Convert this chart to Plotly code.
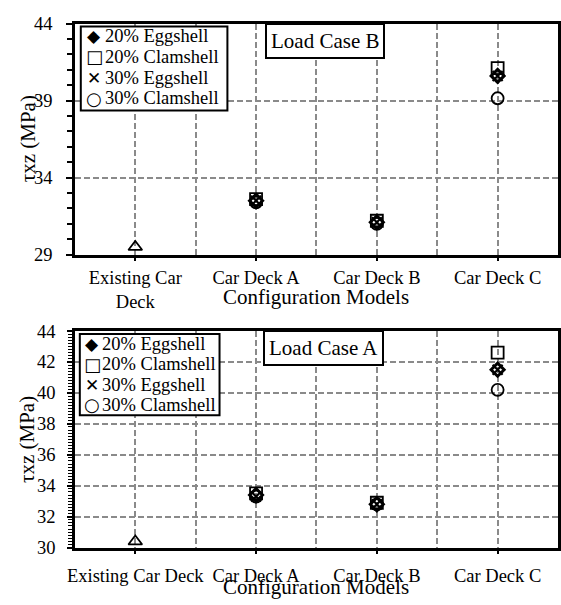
import plotly.graph_objects as go

W, H = 561, 605

# Configuration models on the x axis
categories = ["Existing Car Deck", "Car Deck A", "Car Deck B", "Car Deck C"]
tick_text_b = ["Existing Car<br>Deck", "Car Deck A", "Car Deck B", "Car Deck C"]
tick_text_a = ["Existing Car Deck", "Car Deck A", "Car Deck B", "Car Deck C"]
models = ["Car Deck A", "Car Deck B", "Car Deck C"]

series_names = ["20% Eggshell", "20% Clamshell", "30% Eggshell", "30% Clamshell"]

# Load Case B shear stress (MPa)
existing_b = 29.5
case_b = {
    "20% Eggshell": [32.5, 31.1, 40.6],
    "20% Clamshell": [32.6, 31.2, 41.1],
    "30% Eggshell": [32.5, 31.1, 40.6],
    "30% Clamshell": [32.4, 31.0, 39.15],
}

# Load Case A shear stress (MPa)
existing_a = 30.4
case_a = {
    "20% Eggshell": [33.4, 32.8, 41.5],
    "20% Clamshell": [33.5, 32.9, 42.6],
    "30% Eggshell": [33.3, 32.8, 41.5],
    "30% Clamshell": [33.3, 32.8, 40.2],
}

styles = {
    "20% Eggshell": dict(symbol="diamond-open", size=10, line=dict(width=3, color="black")),
    "20% Clamshell": dict(symbol="square-open", size=12, line=dict(width=1.8, color="black")),
    "30% Eggshell": dict(symbol="x-thin", size=10, line=dict(width=2.2, color="black")),
    "30% Clamshell": dict(symbol="circle-open", size=12, line=dict(width=1.8, color="black")),
}

# glyphs used in the boxed keys
key_glyphs = {
    "20% Eggshell": ("◆", 17),
    "20% Clamshell": ("□", 18),
    "30% Eggshell": ("✕", 17),
    "30% Clamshell": ("○", 18),
}

FONT = "Liberation Serif, Times New Roman, serif"
SYMFONT = "DejaVu Sans"
pos = {c: i + 0.5 for i, c in enumerate(categories)}


def px_x(v):
    return v / W


def px_y(v):
    return 1 - v / H


fig = go.Figure()

panels = [
    ("x", "y", existing_b, case_b),
    ("x2", "y2", existing_a, case_a),
]
for xa, ya, existing, data in panels:
    fig.add_trace(go.Scatter(
        x=[pos["Existing Car Deck"]], y=[existing], mode="markers",
        marker=dict(symbol="triangle-up-open", size=12, color="black",
                    line=dict(width=1.8, color="black")),
        xaxis=xa, yaxis=ya, showlegend=False, name="Existing",
    ))
    for name in series_names:
        st = styles[name]
        fig.add_trace(go.Scatter(
            x=[pos[m] for m in models], y=data[name], mode="markers",
            name=name, xaxis=xa, yaxis=ya, showlegend=False,
            marker=dict(symbol=st["symbol"], size=st["size"], color="black",
                        line=st["line"]),
        ))

grid = dict(gridcolor="#8a8a8a", gridwidth=1.5, griddash="6px,3px")
xdom = [69 / W, 560 / W]

xcommon = dict(
    domain=xdom, range=[0, 4], tickmode="array",
    tickvals=[pos[c] for c in categories],
    showline=True, linecolor="black", linewidth=2.5, mirror=True,
    ticks="outside", ticklen=4, tickwidth=2, tickcolor="black",
    showgrid=True, **grid,
    minor=dict(tick0=0, dtick=0.5, showgrid=True, ticks="",
               gridcolor="#8a8a8a", gridwidth=1.5, griddash="6px,3px"),
    tickfont=dict(family=FONT, size=18.5, color="black"),
    zeroline=False,
)

fig.update_layout(
    xaxis=dict(**xcommon, ticktext=tick_text_b, anchor="y", ticklabelstandoff=0),
    yaxis=dict(
        domain=[px_y(253), px_y(14)], range=[29, 44], tick0=29, dtick=5,
        showline=True, linecolor="black", linewidth=2.5, mirror=True,
        ticks="outside", ticklen=6, tickwidth=2, tickcolor="black",
        minor=dict(dtick=1, tick0=29, ticks="outside", ticklen=5, tickwidth=1.5,
                   tickcolor="black", showgrid=False),
        showgrid=True, **grid, zeroline=False, anchor="x",
        tickfont=dict(family=FONT, size=18.5, color="black"),
        ticklabelstandoff=10,
    ),
    xaxis2=dict(**xcommon, ticktext=tick_text_a, anchor="y2", ticklabelstandoff=5),
    yaxis2=dict(
        domain=[px_y(556), px_y(332)], range=[30, 44], tick0=30, dtick=2,
        showline=True, linecolor="black", linewidth=2.5, mirror=True,
        ticks="outside", ticklen=5, tickwidth=2, tickcolor="black",
        minor=dict(dtick=0.2, tick0=30, ticks="outside", ticklen=4, tickwidth=1.2,
                   tickcolor="black", showgrid=False),
        showgrid=True, **grid, zeroline=False, anchor="x2",
        tickfont=dict(family=FONT, size=18.5, color="black"),
        ticklabelstandoff=8,
    ),
    showlegend=False,
    width=W, height=H,
    margin=dict(l=0, r=0, t=0, b=0),
    paper_bgcolor="white", plot_bgcolor="white",
    font=dict(family=FONT, color="black"),
)

# boxed keys: (box left, top, right, bottom, symbol centre x, text left x, row centres)
keys = [
    (75, 17, 224, 104, 88.5, 98, [27, 48.5, 70, 91.5]),
    (74, 335, 216, 419, 86.5, 95, [345.5, 366.5, 387.5, 408.5]),
]
for x0, y0, x1, y1, sx, tx, rows in keys:
    fig.add_shape(type="rect", xref="paper", yref="paper",
                  x0=px_x(x0), x1=px_x(x1), y0=px_y(y0), y1=px_y(y1),
                  line=dict(color="black", width=2), fillcolor="white", layer="above")
    for name, yc in zip(series_names, rows):
        glyph, gsize = key_glyphs[name]
        fig.add_annotation(
            text=glyph, xref="paper", yref="paper", x=px_x(sx), y=px_y(yc),
            showarrow=False, xanchor="center", yanchor="middle",
            font=dict(family=SYMFONT, size=gsize, color="black"),
        )
        fig.add_annotation(
            text=name, xref="paper", yref="paper", x=px_x(tx), y=px_y(yc),
            showarrow=False, xanchor="left", yanchor="middle",
            font=dict(family=FONT, size=18.5, color="black"),
        )

annots = [
    dict(text="Load Case B", x=px_x(323.5), y=px_y(32)),
    dict(text="Load Case A", x=px_x(322), y=px_y(350)),
]
for a in annots:
    fig.add_annotation(
        xref="paper", yref="paper", showarrow=False,
        xanchor="center", yanchor="middle",
        bgcolor="white", bordercolor="black", borderwidth=2, borderpad=4,
        font=dict(family=FONT, size=21, color="black"), **a,
    )

# axis titles
for yc in (297, 597):
    fig.add_annotation(
        text="Configuration Models", xref="paper", yref="paper",
        x=px_x(314.5), y=px_y(yc), showarrow=False,
        xanchor="center", yanchor="middle",
        font=dict(family=FONT, size=21, color="black"),
    )
for yc in (133, 444):
    fig.add_annotation(
        text="τxz (MPa)", xref="paper", yref="paper",
        x=px_x(21), y=px_y(yc), showarrow=False, textangle=-90,
        xanchor="center", yanchor="middle",
        font=dict(family=FONT, size=21, color="black"),
    )

fig.write_html("out.html")
